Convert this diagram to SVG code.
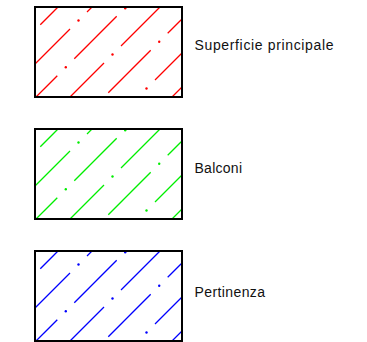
<svg xmlns="http://www.w3.org/2000/svg" xmlns:xlink="http://www.w3.org/1999/xlink" width="367" height="342" viewBox="0 0 367 342">
  <style>
    .frame { fill: none; stroke: #000000; stroke-width: 2; }
    .hatch line { stroke-width: 1.3; stroke-linecap: butt; }
    .label { font-family: "Liberation Sans", Arial, sans-serif; font-size: 14px; fill: #111111; }
  </style>
  <defs>
    <g id="hatch" class="hatch">
      <line x1="5.3" y1="17.7" x2="23" y2="0"/>
      <line x1="0" y1="57" x2="35" y2="22"/>
      <circle cx="43.5" cy="13.5" r="1.2" stroke="none"/>
      <line x1="52" y1="5" x2="57" y2="0"/>
      <line x1="1" y1="90" x2="22.3" y2="68.7"/>
      <circle cx="30.8" cy="60.2" r="1.2" stroke="none"/>
      <line x1="39.3" y1="51.7" x2="81.7" y2="9.3"/>
      <circle cx="90.2" cy="1.2" r="1.2" stroke="none"/>
      <line x1="35" y1="90" x2="69" y2="56"/>
      <circle cx="77.5" cy="47.5" r="1.2" stroke="none"/>
      <line x1="86" y1="39" x2="125" y2="0"/>
      <line x1="73.3" y1="85.7" x2="115.7" y2="43.3"/>
      <circle cx="124.2" cy="34.8" r="1.2" stroke="none"/>
      <line x1="132.7" y1="26.3" x2="147" y2="12"/>
      <circle cx="111.5" cy="81.5" r="1.2" stroke="none"/>
      <line x1="120" y1="73" x2="147" y2="46"/>
      <line x1="137" y1="90" x2="147" y2="80"/>
    </g>
  </defs>
  <g id="connectors"/>
  <g id="node-superficie">
    <use href="#hatch" xlink:href="#hatch" transform="translate(35,7)" stroke="#ff0000" fill="#ff0000"/>
    <rect class="frame" x="35" y="7" width="147" height="90"/>
    <text class="label" x="194.5" y="50" textLength="139">Superficie principale</text>
  </g>
  <g id="node-balconi">
    <use href="#hatch" xlink:href="#hatch" transform="translate(35,129)" stroke="#00ee00" fill="#00ee00"/>
    <rect class="frame" x="35" y="129" width="147" height="90"/>
    <text class="label" x="194.5" y="172.5" textLength="47.5">Balconi</text>
  </g>
  <g id="node-pertinenza">
    <use href="#hatch" xlink:href="#hatch" transform="translate(35,251)" stroke="#0000ff" fill="#0000ff"/>
    <rect class="frame" x="35" y="251" width="147" height="90"/>
    <text class="label" x="194.5" y="296.5" textLength="70.5">Pertinenza</text>
  </g>
</svg>
